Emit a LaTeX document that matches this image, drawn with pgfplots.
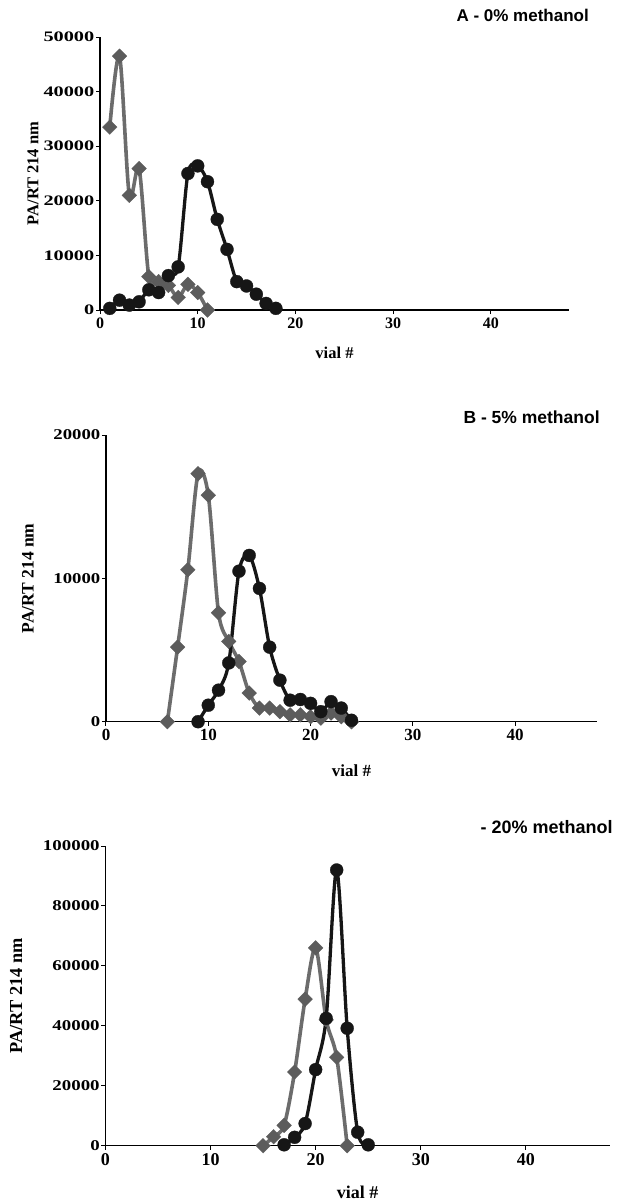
\documentclass[border=0pt]{standalone}
\usepackage{pgfplots}
\pgfplotsset{compat=1.18}
\usepackage{fontspec}
\setmainfont{Liberation Serif}
\newfontfamily\sansb{Liberation Sans}
\newfontfamily\stretchA[FakeStretch=1.4]{Liberation Serif}
\newfontfamily\stretchB[FakeStretch=1.25]{Liberation Serif}
\newfontfamily\stretchC[FakeStretch=1.26]{Liberation Serif}
\definecolor{dgray}{RGB}{92,92,92}
\definecolor{lgray}{RGB}{108,108,108}
\definecolor{blk}{RGB}{22,22,22}

\pgfplotsset{
 panel/.style={
   scale only axis, axis x line=bottom, axis y line=left,
   axis line style={-, line width=1.2pt, black},
   xmin=0, xmax=48, ymin=0, xtick={0,10,20,30,40},
   tick align=outside, major tick length=4pt, tick style={line width=1pt, black},
   /pgf/number format/fixed, /pgf/number format/precision=0,
   /pgf/number format/1000 sep={}, scaled y ticks=false, scaled x ticks=false,
   /pgf/number format/assume math mode=true,
   clip=false, anchor=south west,
   xlabel={vial \#}, ylabel={PA/RT 214 nm},
   yticklabel style={inner sep=1.5pt},
 },
 gser/.style={color=lgray, line width=3.6pt, smooth, tension=0.5, mark=square*,
   mark options={rotate=45, fill=dgray, draw=dgray, line width=0.3pt}, mark size=5.2pt},
 bser/.style={color=blk, line width=3.3pt, smooth, tension=0.5, mark=*,
   mark options={fill=blk, draw=blk, line width=0.3pt}, mark size=6.5pt},
}

\begin{document}
\begin{tikzpicture}[x=1pt,y=1pt]
\useasboundingbox (0,0) rectangle (618,-1202);

% ---------- Panel A ----------
\begin{axis}[panel, at={(100pt,-310pt)}, width=469pt, height=273pt,
  ymax=50000, ytick={0,10000,20000,30000,40000,50000},
  xticklabel style={font=\fontsize{16}{16}\selectfont\bfseries},
  yticklabel style={font=\fontsize{14.5}{14.5}\selectfont\stretchA\bfseries},
  every axis y label/.style={at={(axis description cs:-0.143,0.5)}, rotate=90, anchor=center,
     font=\fontsize{16.5}{16.5}\selectfont\bfseries},
  every axis x label/.style={at={(axis description cs:0.5,-0.158)}, anchor=center,
     font=\fontsize{16.5}{16.5}\selectfont\bfseries},
]
\addplot[gser] coordinates {(1,33500)(2,46500)(3,21000)(4,25900)(5,6100)(6,5200)(7,4500)(8,2300)(9,4700)(10,3200)(11,0)};
\addplot[bser] coordinates {(1,300)(2,1800)(3,900)(4,1500)(5,3700)(6,3200)(7,6300)(8,7900)(9,25000)(10,26400)(11,23500)(12,16600)(13,11100)(14,5200)(15,4400)(16,2900)(17,1200)(18,300)};
\end{axis}

% ---------- Panel B ----------
\begin{axis}[panel, at={(106pt,-721.7pt)}, width=491pt, height=286.7pt,
  ymax=20000, ytick={0,10000,20000},
  xticklabel style={font=\fontsize{17}{17}\selectfont\bfseries},
  yticklabel style={font=\fontsize{15}{15}\selectfont\stretchB\bfseries},
  every axis y label/.style={at={(axis description cs:-0.159,0.5)}, rotate=90, anchor=center,
     font=\fontsize{17.5}{17.5}\selectfont\bfseries},
  every axis x label/.style={at={(axis description cs:0.5,-0.172)}, anchor=center,
     font=\fontsize{17}{17}\selectfont\bfseries},
]
\addplot[gser] coordinates {(6,0)(7,5200)(8,10600)(9,17300)(10,15800)(11,7600)(12,5600)(13,4200)(14,2000)(15,950)(16,950)(17,700)(18,480)(19,480)(20,350)(21,250)(22,600)(23,350)(24,0)};
\addplot[bser] coordinates {(9,0)(10,1150)(11,2200)(12,4100)(13,10500)(14,11600)(15,9300)(16,5200)(17,2900)(18,1500)(19,1550)(20,1280)(21,700)(22,1400)(23,950)(24,100)};
\end{axis}

% ---------- Panel C ----------
\begin{axis}[panel, at={(105.4pt,-1145.7pt)}, width=504.6pt, height=299.7pt,
  ymax=100000, ytick={0,20000,40000,60000,80000,100000},
  xticklabel style={font=\fontsize{18}{18}\selectfont\bfseries},
  yticklabel style={font=\fontsize{15}{15}\selectfont\stretchC\bfseries},
  every axis y label/.style={at={(axis description cs:-0.177,0.5)}, rotate=90, anchor=center,
     font=\fontsize{18.3}{18.3}\selectfont\bfseries},
  every axis x label/.style={at={(axis description cs:0.5,-0.154)}, anchor=center,
     font=\fontsize{18}{18}\selectfont\bfseries},
]
\addplot[gser] coordinates {(15,0)(16,3000)(17,6800)(18,24600)(19,48900)(20,66000)(21,42000)(22,29500)(23,0)};
\addplot[bser] coordinates {(17,300)(18,2800)(19,7400)(20,25400)(21,42500)(22,92000)(23,39200)(24,4500)(25,300)};
\end{axis}

% ---------- Titles ----------
\node[font=\sansb\bfseries\fontsize{17}{17}\selectfont, anchor=base west] at (453,-21) {A - 0\% methanol};
\node[font=\sansb\bfseries\fontsize{17.5}{17.5}\selectfont, anchor=base west] at (460,-423) {B - 5\% methanol};
\node[font=\sansb\bfseries\fontsize{18}{18}\selectfont, anchor=base west] at (477,-833) {- 20\% methanol};
\end{tikzpicture}
\end{document}
